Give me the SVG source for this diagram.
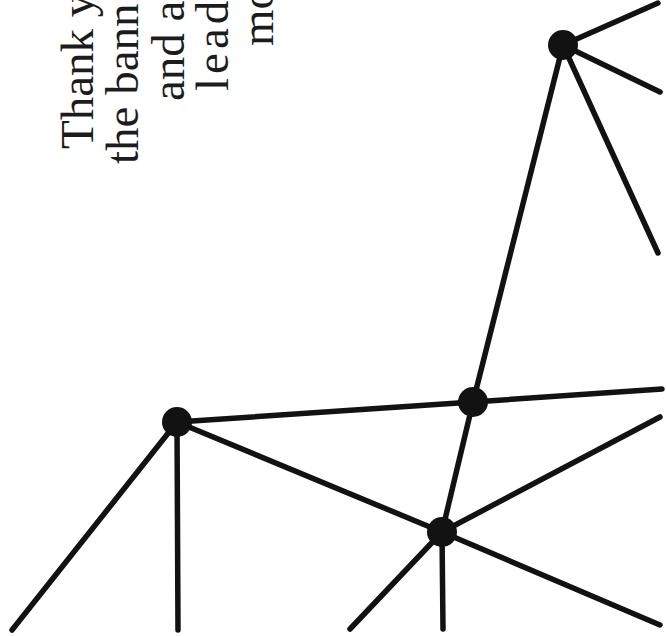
<svg xmlns="http://www.w3.org/2000/svg" width="666" height="636" viewBox="0 0 666 636">
  <style>
    .edge { stroke: #121212; stroke-width: 5.5; stroke-linecap: round; fill: none; }
    .node { fill: #121212; }
    .caption { font-family: "Liberation Serif", "DejaVu Serif", serif; font-size: 47px; fill: #1c1c1c; }
  </style>
  <rect width="666" height="636" fill="#ffffff"/>
  <g id="caption" transform="rotate(-90)">
    <text class="caption" x="-149" y="93">Thank y</text>
    <text class="caption" x="-164" y="138">the bann</text>
    <text class="caption" x="-101" y="184">and a</text>
    <text class="caption" x="-91" y="228" letter-spacing="4">lead</text>
    <text class="caption" x="-46" y="273">mo</text>
  </g>
  <g id="connectors">
    <line class="edge" x1="563" y1="45" x2="658" y2="3"/>
    <line class="edge" x1="563" y1="45" x2="660" y2="92"/>
    <line class="edge" x1="563" y1="45" x2="658" y2="253"/>
    <line class="edge" x1="563" y1="45" x2="473" y2="402"/>
    <line class="edge" x1="473" y1="402" x2="662" y2="389"/>
    <line class="edge" x1="473" y1="402" x2="177" y2="422"/>
    <line class="edge" x1="473" y1="402" x2="442" y2="532"/>
    <line class="edge" x1="177" y1="422" x2="442" y2="532"/>
    <line class="edge" x1="177" y1="422" x2="178" y2="630"/>
    <line class="edge" x1="177" y1="422" x2="12" y2="630"/>
    <line class="edge" x1="442" y1="532" x2="660" y2="417"/>
    <line class="edge" x1="442" y1="532" x2="660" y2="625"/>
    <line class="edge" x1="442" y1="532" x2="443" y2="629"/>
    <line class="edge" x1="442" y1="532" x2="350" y2="629"/>
  </g>
  <g id="node-a"><circle class="node" cx="563" cy="45" r="15"/></g>
  <g id="node-b"><circle class="node" cx="473" cy="402" r="15"/></g>
  <g id="node-c"><circle class="node" cx="177" cy="422" r="15"/></g>
  <g id="node-d"><circle class="node" cx="442" cy="532" r="15"/></g>
</svg>
